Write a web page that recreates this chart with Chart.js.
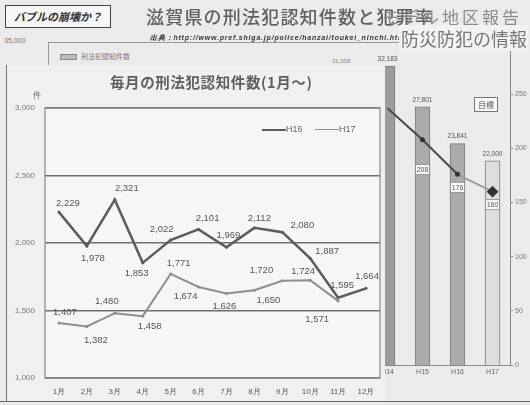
<!DOCTYPE html>
<html lang="ja">
<head>
<meta charset="utf-8">
<script src="https://cdn.jsdelivr.net/npm/chart.js@4.4.1/dist/chart.umd.min.js"></script>
<style>
  html, body { margin: 0; padding: 0; }
  body { width: 530px; height: 405px; overflow: hidden; background: #ebebeb;
         font-family: "Noto Sans CJK JP", "Noto Sans", sans-serif; }
  #wrap { position: relative; width: 530px; height: 405px; }
  .abs { position: absolute; white-space: nowrap; }
  .num { font-family: "Liberation Sans", Arial, sans-serif; }
</style>
</head>
<body>
<div id="wrap">

  <!-- 背景の棒グラフ（年別） -->
  <div class="abs" style="left:48px;top:42px;width:462px;height:323px;border-top:1px solid #999;border-left:1px solid #999;"></div>
  <div class="abs num" style="left:4px;top:37px;font-size:7px;color:#777;">35,000</div>
  <div class="abs" style="left:60px;top:51px;font-size:7px;color:#777;">
    <span style="display:inline-block;width:15px;height:4px;border:1px solid #888;background:#bbb;vertical-align:middle;margin-right:4px;"></span>刑法犯認知件数
  </div>
  <div class="abs num" style="left:332px;top:58px;font-size:6px;color:#888;">31,958</div>
  <canvas id="grafico-anual" class="abs" width="175" height="405" style="left:355px;top:0;"></canvas>
  <div class="abs" style="left:474px;top:97px;width:22px;height:13px;border:1px solid #777;background:#fafafa;font-size:8px;line-height:13px;text-align:center;color:#555;">目標</div>

  <!-- 月別パネル -->
  <div class="abs" style="left:6px;top:65px;width:378px;height:337px;background:#f0f0f0;border-left:1.5px solid #777;"></div>
  <canvas id="grafico-mensual" class="abs" width="384" height="337" style="left:0;top:66px;"></canvas>
  <div class="abs" style="left:110px;top:71px;font-size:14.5px;font-weight:bold;color:#5e5e5e;letter-spacing:0.6px;">毎月の刑法犯認知件数(1月～)</div>
  <div class="abs" style="left:33px;top:89px;font-size:8px;color:#666;">件</div>
  <div class="abs num" style="left:262px;top:124px;font-size:9px;color:#666;">
    <span style="display:inline-block;width:24px;border-top:2.5px solid #5c5c5c;vertical-align:middle;"></span>H16
    <span style="display:inline-block;width:24px;border-top:1.5px solid #8e8e8e;vertical-align:middle;margin-left:10px;"></span>H17
  </div>
  <div class="abs" style="left:0;top:401px;width:530px;border-top:1.5px solid #666;"></div>

  <!-- タイトル行 -->
  <div class="abs" style="left:5px;top:5px;width:104px;height:21px;border:1.5px solid #444;background:#f6f6f6;font-size:11px;font-weight:bold;font-style:italic;line-height:21px;text-align:center;color:#333;">バブルの崩壊か？</div>
  <div class="abs" style="left:146px;top:3px;font-size:18px;font-weight:500;color:#5f5f5f;letter-spacing:1.2px;">滋賀県の刑法犯認知件数と犯罪率</div>
  <div class="abs" style="left:382px;top:4px;font-size:17px;color:#8a8a8a;letter-spacing:3px;">モデル地区報告</div>
  <div class="abs num" style="left:150px;top:33px;font-size:7px;font-weight:bold;font-style:italic;color:#333;letter-spacing:0.8px;filter:blur(0.4px);">出典：http://www.pref.shiga.jp/police/hanzai/toukei_ninchi.html</div>
  <div class="abs" style="left:399px;top:25px;font-size:18px;color:#777;background:rgba(242,242,242,0.95);padding:0 2px;">防災防犯の情報</div>

</div>

<script>
// ── データ ─────────────────────────────────────
const meses = ['1月', '2月', '3月', '4月', '5月', '6月', '7月', '8月', '9月', '10月', '11月', '12月'];
const h16 = [2229, 1978, 2321, 1853, 2022, 2101, 1969, 2112, 2080, 1887, 1595, 1664];
const h17 = [1407, 1382, 1480, 1458, 1771, 1674, 1626, 1650, 1720, 1724, 1571, null];

const anios = ['H14', 'H15', 'H16', 'H17'];
const ninchi = [32183, 27801, 23841, 22000];
const hanzaiRitsu = [237, 208, 176, 160];

// ラベルの置き場所（点からのずれ）
const offH16 = [[9,-9],[6,12],[12,-11],[-6,11],[-9,-11],[9,-11],[2,-12],[5,-10],[20,-7],[17,-7],[4,-12],[1,-12]];
const offH17 = [[6,-11],[9,14],[-8,-12],[7,10],[8,-11],[-13,9],[-2,13],[14,10],[-21,-10],[-7,-9],[-21,18],null];
const offRitsu = [null, 30, 13, 13];

const numFont = "'Liberation Sans', Arial, sans-serif";
const fmt = v => v.toLocaleString('en-US');

// ── 月別グラフ ─────────────────────────────────
const fondoPlot = {
    id: 'fondoPlot',
    beforeDraw(chart) {
        const { ctx, chartArea: a } = chart;
        ctx.save();
        ctx.fillStyle = '#f6f6f6';
        ctx.fillRect(a.left, a.top, a.right - a.left, a.bottom - a.top);
        ctx.restore();
    },
    afterDraw(chart) {
        const { ctx, chartArea: a } = chart;
        ctx.save();
        ctx.strokeStyle = '#888';
        ctx.lineWidth = 1.2;
        ctx.strokeRect(a.left, a.top, a.right - a.left, a.bottom - a.top);
        ctx.restore();
    }
};

const etiquetas = {
    id: 'etiquetas',
    afterDatasetsDraw(chart) {
        const { ctx } = chart;
        const offs = [offH16, offH17];
        ctx.save();
        ctx.font = `9.5px ${numFont}`;
        ctx.fillStyle = '#555';
        ctx.textAlign = 'center';
        ctx.textBaseline = 'middle';
        chart.data.datasets.forEach((ds, di) => {
            chart.getDatasetMeta(di).data.forEach((pt, i) => {
                const o = offs[di][i];
                if (ds.data[i] == null || !o) return;
                ctx.fillText(fmt(ds.data[i]), pt.x + o[0], pt.y + o[1]);
            });
        });
        ctx.restore();
    }
};

new Chart(document.getElementById('grafico-mensual'), {
    type: 'line',
    data: {
        labels: meses,
        datasets: [
            { label: 'H16', data: h16, borderColor: '#5c5c5c', borderWidth: 2.5,
              pointRadius: 1.5, pointBackgroundColor: '#5c5c5c', pointBorderWidth: 0 },
            { label: 'H17', data: h17, borderColor: '#8e8e8e', borderWidth: 2,
              pointRadius: 1.5, pointBackgroundColor: '#8e8e8e', pointBorderWidth: 0 }
        ]
    },
    options: {
        responsive: false,
        animation: false,
        layout: { padding: { top: 42, right: 1 } },
        plugins: { legend: { display: false }, tooltip: { enabled: false } },
        scales: {
            x: {
                offset: true,
                grid: { display: false, drawTicks: false },
                border: { display: false },
                ticks: { font: { family: numFont, size: 8 }, color: '#555', padding: 9 },
                afterFit: s => { s.height = 25; }
            },
            y: {
                min: 1000, max: 3000,
                ticks: { stepSize: 500, callback: v => fmt(v), font: { family: numFont, size: 8 }, color: '#777', padding: 10 },
                grid: { color: '#6e6e6e', lineWidth: 1.5, drawTicks: false },
                border: { display: false },
                afterFit: s => { s.width = 45; }
            }
        }
    },
    plugins: [fondoPlot, etiquetas]
});

// ── 年別グラフ（件数と犯罪率） ─────────────────
const etiquetasAnio = {
    id: 'etiquetasAnio',
    afterDatasetsDraw(chart) {
        const { ctx } = chart;
        ctx.save();
        ctx.textAlign = 'center';
        ctx.textBaseline = 'middle';
        ctx.font = `6.5px ${numFont}`;
        ctx.fillStyle = '#555';
        chart.getDatasetMeta(1).data.forEach((bar, i) => {
            ctx.fillText(fmt(ninchi[i]), bar.x, bar.y - 7);
        });
        ctx.font = `7px ${numFont}`;
        chart.getDatasetMeta(0).data.forEach((pt, i) => {
            const o = offRitsu[i];
            if (o == null) return;
            const y = pt.y + o;
            ctx.fillStyle = '#fafafa';
            ctx.strokeStyle = '#888';
            ctx.lineWidth = 0.8;
            ctx.fillRect(pt.x - 7, y - 5, 14, 10);
            ctx.strokeRect(pt.x - 7, y - 5, 14, 10);
            ctx.fillStyle = '#555';
            ctx.fillText(hanzaiRitsu[i], pt.x, y + 0.5);
        });
        ctx.restore();
    }
};

new Chart(document.getElementById('grafico-anual'), {
    type: 'bar',
    data: {
        labels: anios,
        datasets: [
            {
                type: 'line', data: hanzaiRitsu, yAxisID: 'y1', order: 0,
                borderColor: '#4a4a4a', borderWidth: 2,
                segment: { borderColor: c => c.p1DataIndex === anios.length - 1 ? '#9c9c9c' : '#4a4a4a' },
                pointRadius: [0, 1.5, 1.5, 4.5],
                pointStyle: ['circle', 'circle', 'circle', 'rectRot'],
                pointBackgroundColor: '#333', pointBorderColor: '#333'
            },
            {
                type: 'bar', data: ninchi, yAxisID: 'y', order: 1,
                backgroundColor: ['#9c9c9c', '#ababab', '#ababab', '#dedede'],
                borderColor: '#7c7c7c', borderWidth: 1, barThickness: 15
            }
        ]
    },
    options: {
        responsive: false,
        animation: false,
        layout: { padding: { left: 15, top: 40 } },
        plugins: { legend: { display: false }, tooltip: { enabled: false } },
        scales: {
            x: {
                grid: { display: false, drawTicks: false },
                border: { color: '#888' },
                ticks: { font: { family: numFont, size: 7 }, color: '#666', padding: 3 },
                afterFit: s => { s.height = 40; }
            },
            y: { display: false, min: 0, max: 35000 },
            y1: {
                position: 'right', min: 0, max: 300,
                ticks: { stepSize: 50, font: { family: numFont, size: 7 }, color: '#777', padding: 2 },
                afterBuildTicks: a => { a.ticks = a.ticks.filter(t => t.value <= 250); },
                grid: { drawOnChartArea: false, tickLength: 3, color: '#888' },
                border: { color: '#888' },
                afterFit: s => { s.width = 20; }
            }
        }
    },
    plugins: [etiquetasAnio]
});
</script>
</body>
</html>
